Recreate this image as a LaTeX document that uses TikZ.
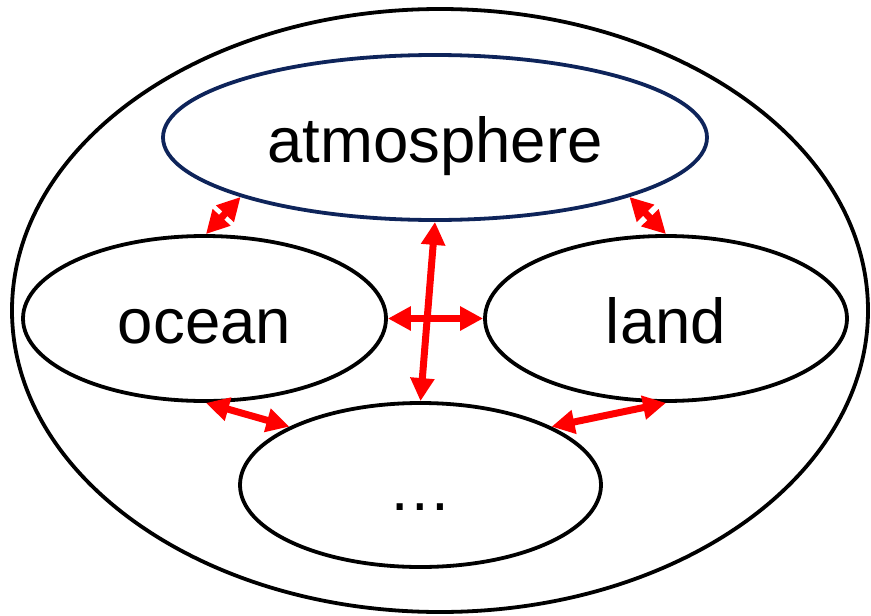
\documentclass[tikz,border=0pt]{standalone}
\usepackage{fontspec}
\setmainfont{Liberation Sans}
\usetikzlibrary{shapes.geometric,arrows.meta}
\definecolor{navy}{RGB}{14,36,90}
\begin{document}
\begin{tikzpicture}[x=1pt,y=-1pt,
  blob/.style={ellipse,draw=black,line width=3.8pt,inner sep=0pt,
    text height=50pt,text depth=0pt,font=\fontsize{63.5}{70}\selectfont},
  flux/.style={draw=red,line width=7pt,
    {Triangle[length=23pt,width=23pt]}-{Triangle[length=23pt,width=23pt]}}]
\useasboundingbox (0,0) rectangle (871,616);
\node[blob, minimum width=856pt, minimum height=603pt] (outer) at (440,310.5) {};
\node[blob, draw=navy, minimum width=544pt, minimum height=165pt] (atm) at (435,137.5) {atmosphere};
\node[blob, minimum width=363pt, minimum height=165pt] (ocean) at (204.5,318.5) {ocean};
\node[blob, minimum width=362pt, minimum height=165pt] (land) at (666,318.5) {land};
\node[blob, minimum width=361pt, minimum height=164pt] (dots) at (420.5,485) {…};
\draw[flux] (atm.197) -- (ocean.89);
\draw[flux] (atm.343) -- (land.north);
\draw[flux] (ocean.east) -- (land.west);
\draw[flux] (atm.south) -- (dots.north);
\draw[flux] (ocean.271) -- (dots.156);
\draw[flux] (land.south) -- (dots.24.5);
\end{tikzpicture}
\end{document}
